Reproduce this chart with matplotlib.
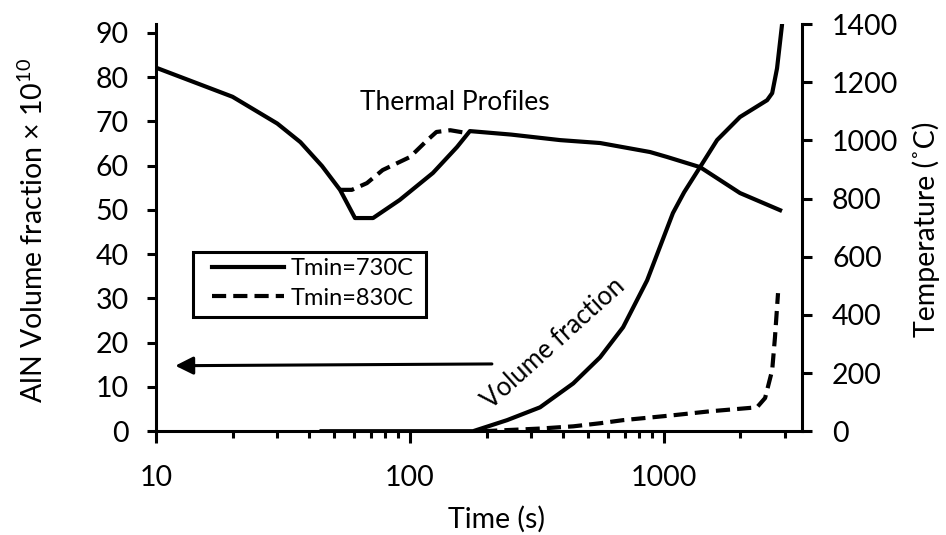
import numpy as np
import matplotlib
matplotlib.use("Agg")
import matplotlib.pyplot as plt
from matplotlib.patches import Rectangle
from matplotlib.ticker import LogLocator, NullFormatter, FixedLocator

plt.rcParams['font.family'] = ['Lato', 'DejaVu Sans']
plt.rcParams['mathtext.fontset'] = 'custom'
plt.rcParams['mathtext.rm'] = 'Lato'

# thermal profiles (right axis, degC)
t_730 = [10, 20, 30, 37, 45, 53, 60.7, 71.5, 91, 123, 153, 172, 250, 390, 560, 881, 1028, 1387, 1991, 2864]
T_730 = [1250, 1150, 1058, 994, 912, 830, 733, 733, 795, 888, 977, 1032, 1020, 1001, 991, 960, 943, 908, 819, 760]
t_830 = [53, 59, 67.6, 78, 100, 117, 127, 144, 168]
T_830 = [830, 830, 853, 898, 943, 1001, 1029, 1035, 1025]

# AlN volume fraction x 1e10 (left axis)
t_vf730 = [44, 177, 241, 325, 439, 560, 690, 858, 1084, 1200, 1387, 1618, 1991, 2546, 2666, 2786, 2914, 2960]
vf_730 = [0, 0, 2.5, 5.4, 10.8, 16.7, 23.5, 34.1, 49.3, 54.0, 59.7, 65.8, 71, 74.8, 76.4, 82, 91.8, 100]
t_vf830 = [194, 325, 439, 560, 690, 1084, 1517, 2323, 2500, 2666, 2734, 2811]
vf_830 = [0, 0.6, 1.1, 1.8, 2.5, 3.6, 4.5, 5.4, 7.5, 13.8, 21.2, 31.2]

xticks = [10, 100, 1000]
yticks_left = np.arange(0, 91, 10)
yticks_right = np.arange(0, 1401, 200)

lw = 3
dash = (0, (3.4, 1.7))
spw = 2.2
fs = 20.5

fig = plt.figure(figsize=(9.46, 5.35), dpi=100)
ax = fig.add_subplot(111)
fig.subplots_adjust(left=0.165, right=0.848, bottom=0.194, top=0.955)
ax2 = ax.twinx()

ax.plot(t_vf730, vf_730, color='black', lw=lw, solid_capstyle='butt')
ax.plot(t_vf830, vf_830, color='black', lw=lw, linestyle=dash)

ax2.plot(t_730, T_730, color='black', lw=lw, label='Tmin=730C')
ax2.plot(t_830, T_830, color='black', lw=lw, linestyle=dash, label='Tmin=830C')

ax.set_xscale('log')
ax.set_xlim(10, 3500)
ax.set_ylim(0, 92)
ax2.set_ylim(0, 1400)

ax.xaxis.set_major_locator(FixedLocator(xticks))
ax.set_xticklabels([str(v) for v in xticks])
ax.xaxis.set_minor_locator(LogLocator(base=10, subs=np.arange(2, 10)))
ax.xaxis.set_minor_formatter(NullFormatter())
ax.set_yticks(yticks_left)
ax2.set_yticks(yticks_right)

for a in (ax, ax2):
    for s in a.spines.values():
        s.set_linewidth(spw)
    a.spines['top'].set_visible(False)
ax.spines['right'].set_visible(False)
ax2.spines['left'].set_visible(False)
ax2.spines['bottom'].set_visible(False)

ax.tick_params(axis='y', direction='out', length=6.5, width=spw, pad=13, labelsize=fs)
ax.tick_params(axis='x', which='major', direction='out', length=8.5, width=spw, pad=16, labelsize=fs)
ax.tick_params(axis='x', which='minor', direction='out', length=5, width=spw)
ax2.tick_params(axis='y', direction='out', length=7, width=spw, pad=14.5, labelsize=fs)

fig.text(33 / 946, 1 - 230 / 535, r'AlN Volume fraction × $\mathregular{10^{10}}$',
         rotation=90, ha='center', va='center', fontsize=fs)
fig.text(926 / 946, 1 - 229 / 535, 'Temperature (˚C)', rotation=90,
         ha='center', va='center', fontsize=fs)
fig.text(497 / 946, 0.030, 'Time (s)', ha='center', va='center', fontsize=fs)

ax2.text(150, 1132, 'Thermal Profiles', ha='center', va='center', fontsize=19)
ax.text(366, 19.9, 'Volume fraction', rotation=42, rotation_mode='anchor',
        ha='center', va='center', fontsize=18.5)

ax.annotate('', xy=(11.9, 14.8), xytext=(210, 15.2),
            arrowprops=dict(arrowstyle='-|>', lw=2.2, color='black', mutation_scale=27,
                            shrinkA=0, shrinkB=0))

# legend box drawn Excel-style, wider than the entries
fig.patches.append(Rectangle((193 / 946, 1 - 317 / 535), 233 / 946, 65 / 535,
                             transform=fig.transFigure, fill=False,
                             edgecolor='black', linewidth=2.2, zorder=5))
leg = ax2.legend(loc='upper left', bbox_to_anchor=(212 / 946, 1 - 258 / 535),
                 bbox_transform=fig.transFigure, fontsize=17, frameon=False,
                 borderaxespad=0, borderpad=0,
                 handlelength=3.05, handletextpad=0.3, labelspacing=0.37)

fig.savefig('out.png', dpi=100)
